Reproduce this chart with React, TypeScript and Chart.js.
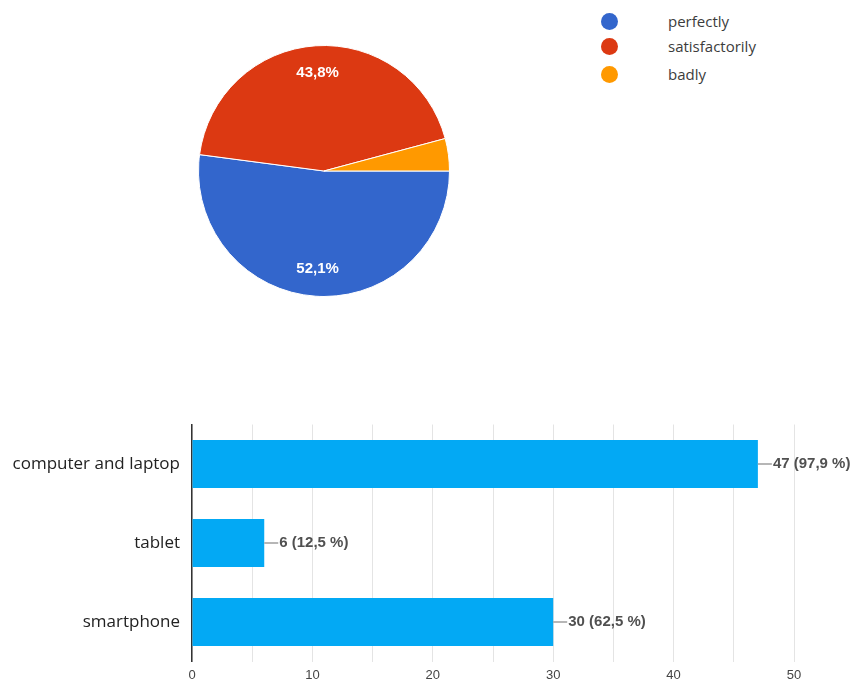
import React, { useEffect, useRef } from "react";
import { Chart, registerables } from "chart.js";

Chart.register(...registerables);

const pieLabels = ["perfectly", "satisfactorily", "badly"];
const pieValues = [25, 21, 2];
const pieColors = ["#3366CC", "#DC3912", "#FF9900"];

const barCategories = ["computer and laptop", "tablet", "smartphone"];
const barValues = [47, 6, 30];
const respondents = 48;
const xTickValues = [0, 10, 20, 30, 40, 50];

const fmt = (n: number) => n.toFixed(1).replace(".", ",");

const pieLabelPlugin = {
  id: "pieLabels",
  afterDatasetsDraw(chart: any) {
    const ctx = chart.ctx;
    const meta = chart.getDatasetMeta(0);
    const data = chart.data.datasets[0].data as number[];
    const total = data.reduce((a, b) => a + b, 0);
    ctx.save();
    ctx.fillStyle = "#ffffff";
    ctx.font = "bold 15px 'Liberation Sans', Arial, sans-serif";
    ctx.textAlign = "center";
    ctx.textBaseline = "middle";
    meta.data.forEach((arc: any, i: number) => {
      const pct = (data[i] / total) * 100;
      if (pct < 5) return;
      const mid = (arc.startAngle + arc.endAngle) / 2;
      const r = arc.outerRadius * 0.78;
      ctx.fillText(fmt(pct) + "%", arc.x + Math.cos(mid) * r, arc.y + Math.sin(mid) * r);
    });
    ctx.restore();
  },
};

const barLabelPlugin = {
  id: "barLabels",
  afterDatasetsDraw(chart: any) {
    const ctx = chart.ctx;
    const meta = chart.getDatasetMeta(0);
    const data = chart.data.datasets[0].data as number[];
    ctx.save();
    ctx.font = "bold 15px 'Liberation Sans', Arial, sans-serif";
    ctx.textBaseline = "middle";
    ctx.textAlign = "left";
    meta.data.forEach((bar: any, i: number) => {
      const x = bar.x;
      const y = bar.y;
      ctx.strokeStyle = "#9e9e9e";
      ctx.lineWidth = 1.5;
      ctx.beginPath();
      ctx.moveTo(x, y);
      ctx.lineTo(x + 14, y);
      ctx.stroke();
      ctx.fillStyle = "#505050";
      ctx.fillText(`${data[i]} (${fmt((data[i] / respondents) * 100)} %)`, x + 15, y);
    });
    ctx.restore();
  },
};

export default function App() {
  const pieRef = useRef<HTMLCanvasElement>(null);
  const barRef = useRef<HTMLCanvasElement>(null);

  useEffect(() => {
    const pie = new Chart(pieRef.current!, {
      type: "pie",
      data: {
        labels: pieLabels,
        datasets: [
          {
            data: pieValues,
            backgroundColor: pieColors,
            borderColor: "#ffffff",
            borderWidth: 1,
          },
        ],
      },
      options: {
        animation: false,
        responsive: false,
        rotation: 90,
        layout: { padding: 0 },
        plugins: { legend: { display: false }, tooltip: { enabled: false } },
      },
      plugins: [pieLabelPlugin],
    });

    const bar = new Chart(barRef.current!, {
      type: "bar",
      data: {
        labels: barCategories,
        datasets: [
          {
            data: barValues,
            backgroundColor: "#03A9F4",
            borderWidth: 0,
            barPercentage: 0.61,
            categoryPercentage: 1,
          },
        ],
      },
      options: {
        animation: false,
        responsive: false,
        indexAxis: "y",
        layout: { padding: { top: 14.5, right: 59, left: 0, bottom: 0 } },
        plugins: { legend: { display: false }, tooltip: { enabled: false } },
        scales: {
          x: {
            min: 0,
            max: 50,
            afterFit(scale: any) {
              scale.height = 20.5;
              scale.paddingLeft = 0;
              scale.paddingRight = 0;
            },
            ticks: {
              stepSize: 5,
              autoSkip: false,
              maxRotation: 0,
              padding: 6,
              color: "#444444",
              font: { family: "'Liberation Sans', Arial, sans-serif", size: 13 },
              callback: (v: any) => (xTickValues.includes(Number(v)) ? String(v) : ""),
            },
            grid: { color: "#e4e4e4", lineWidth: 1, drawTicks: false },
            border: { display: false },
          },
          y: {
            afterFit(scale: any) {
              scale.width = 192;
              scale.paddingTop = 0;
              scale.paddingBottom = 0;
            },
            ticks: {
              padding: 12,
              color: "#222222",
              font: { family: "'Open Sans', sans-serif", size: 17 },
            },
            grid: { display: false, drawTicks: false },
            border: { display: true, color: "#333333", width: 1.5 },
          },
        },
      },
      plugins: [barLabelPlugin],
    });

    return () => {
      pie.destroy();
      bar.destroy();
    };
  }, []);

  const legendItem = (label: string, color: string, top: number) => (
    <div
      key={label}
      style={{ position: "absolute", left: 601, top, height: 20, display: "flex", alignItems: "center" }}
    >
      <span
        style={{
          display: "inline-block",
          width: 17,
          height: 17,
          borderRadius: "50%",
          background: color,
        }}
      />
      <span
        style={{
          position: "absolute",
          left: 67,
          whiteSpace: "nowrap",
          fontFamily: "'Open Sans', sans-serif",
          fontSize: 15,
          color: "#3c3c3c",
        }}
      >
        {label}
      </span>
    </div>
  );

  return (
    <div
      style={{
        position: "absolute",
        left: 0,
        top: 0,
        width: 853,
        height: 682,
        background: "#ffffff",
        overflow: "hidden",
      }}
    >
      <canvas
        ref={pieRef}
        width={252}
        height={252}
        style={{ position: "absolute", left: 198, top: 45, width: 252, height: 252 }}
      />
      {pieLabels.map((l, i) => legendItem(l, pieColors[i], [11, 36, 64][i]))}
      <canvas
        ref={barRef}
        width={853}
        height={272}
        style={{ position: "absolute", left: 0, top: 410, width: 853, height: 272 }}
      />
    </div>
  );
}
